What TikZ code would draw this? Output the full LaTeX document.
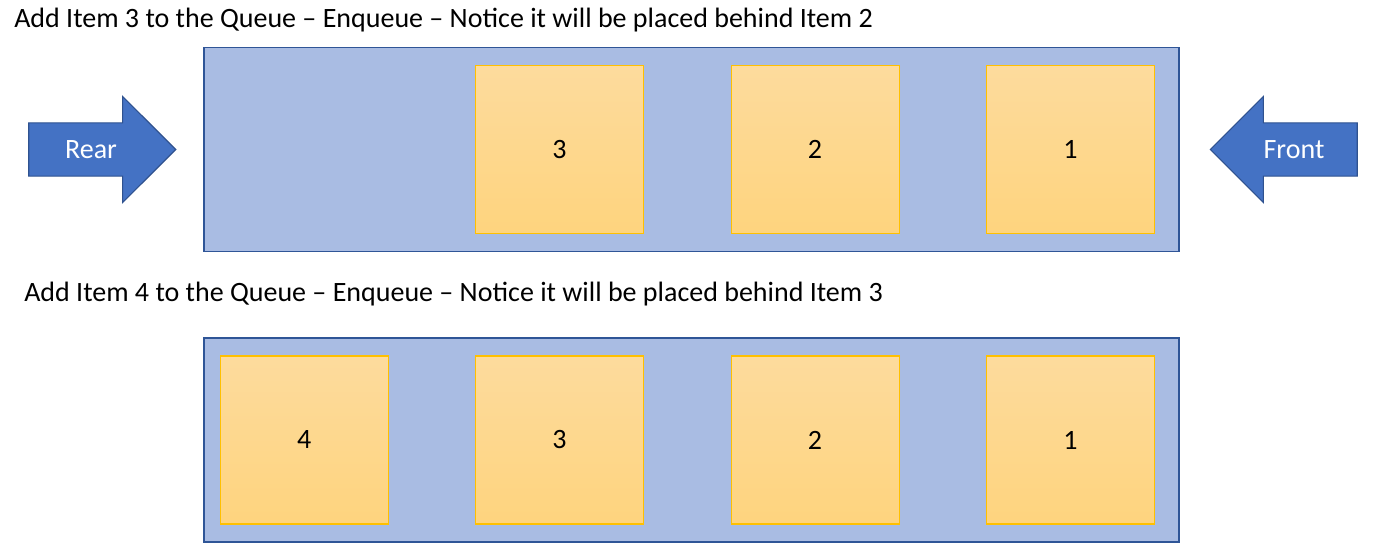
\documentclass[tikz,border=0pt]{standalone}
\usepackage{fontspec}
\setmainfont{Carlito}
\usetikzlibrary{positioning, shapes.arrows}

\definecolor{boxfill}{HTML}{A9BCE3}
\definecolor{boxline}{HTML}{2F5597}
\definecolor{itemtop}{HTML}{FDDB9D}
\definecolor{itembot}{HTML}{FED47E}
\definecolor{itemline}{HTML}{FFC000}
\definecolor{arrowfill}{HTML}{4472C4}
\definecolor{arrowline}{HTML}{2F528F}

\begin{document}
\begin{tikzpicture}[
            x=0.75pt, y=-0.75pt,
            node distance=64.8pt,
            every node/.style={font=\fontsize{21}{25}\selectfont},
            caption/.style={anchor=base west, inner sep=0pt},
            queuebox/.style={draw=boxline, fill=boxfill, line width=1.2pt,
                minimum width=731.25pt, minimum height=153pt, inner sep=0pt},
            item/.style={draw=itemline, top color=itemtop, bottom color=itembot,
                line width=0.8pt, minimum size=126pt, inner sep=0pt},
            pointer/.style={single arrow, draw=arrowline, fill=arrowfill, line width=0.8pt,
                minimum height=110.25pt, minimum width=78.75pt,
                single arrow head extend=19.9pt, inner xsep=0pt, inner ysep=19.5pt},
            pointerlbl/.style={text=white},
        ]
            \useasboundingbox (0,0) rectangle (1379,560);

            % first state: item 3 joins behind item 2
            \node[caption] (title1) at (14,28)
                {Add Item 3 to the Queue -- Enqueue -- Notice it will be placed behind Item 2};
            \node[queuebox] (queue1) at (691.5,149.5) {};
            \node[item] (q1item1) at (1070.5,149.5) {1};
            \node[item, left=of q1item1] (q1item2) {2};
            \node[item, left=of q1item2] (q1item3) {3};

            \node[pointer, anchor=tip] (rear) at (176.5,149.5) {};
            \node[pointerlbl] (rearlbl) at (91,149.5) {Rear};
            \node[pointer, shape border rotate=180, anchor=tip] (front) at (1209.5,149.5) {};
            \node[pointerlbl] (frontlbl) at (1294,149.5) {Front};

            % second state: item 4 joins behind item 3
            \node[caption] (title2) at (24,301)
                {Add Item 4 to the Queue -- Enqueue -- Notice it will be placed behind Item 3};
            \node[queuebox] (queue2) at (691.5,440) {};
            \node[item] (q2item1) at (1070.5,440) {1};
            \node[item, left=of q2item1] (q2item2) {2};
            \node[item, left=of q2item2] (q2item3) {3};
            \node[item, left=of q2item3] (q2item4) {4};
        \end{tikzpicture}
\end{document}
